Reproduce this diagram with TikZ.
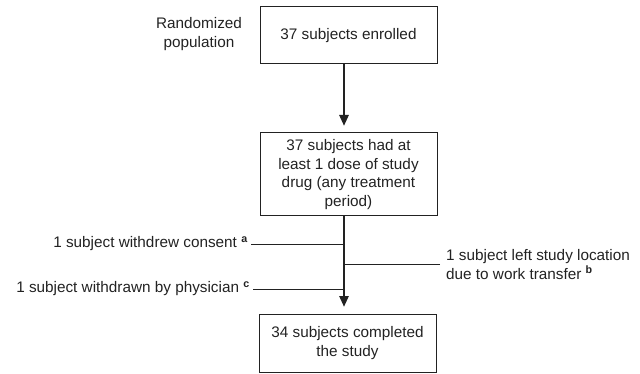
\documentclass[tikz,border=0pt]{standalone}
\usepackage{fontspec}
\setmainfont{Liberation Sans}
\usetikzlibrary{arrows.meta}
\definecolor{ink}{HTML}{222222}
\begin{document}
\begin{tikzpicture}[x=1pt,y=-1pt,
  every node/.style={text=ink,font=\fontsize{15.3}{18.4}\selectfont,inner sep=0pt},
  box/.style={draw=ink,line width=1pt,minimum width=177pt,align=center},
  flow/.style={draw=ink,line width=2.6pt,-{Triangle[length=11pt,width=9pt]},shorten >=6.5pt},
  side/.style={draw=ink,line width=0.9pt},
  note/.style={align=left}]
\useasboundingbox (0,0) rectangle (640,374);
\node[align=center] (rand) at (199,34) {Randomized\\population};
\node[box,minimum height=57pt] (b1) at (348.5,35.5) {37 subjects enrolled};
\node[box,minimum height=83pt] (b2) at (348.5,174.5) {37 subjects had at\\least 1 dose of study\\drug (any treatment\\period)};
\node[box,minimum height=58pt] (b3) at (347.5,343) {34 subjects completed\\the study};
\coordinate (shaft) at (344,0);
\draw[flow] (b1.south -| shaft) -- (b2.north -| shaft);
\draw[flow] (b2.south -| shaft) -- (b3.north -| shaft);
\node[anchor=east] (ta) at (248,244) {1 subject withdrew consent \textsuperscript{\textbf{a}}};
\node[anchor=east] (tc) at (250,289) {1 subject withdrawn by physician \textsuperscript{\textbf{c}}};
\node[anchor=west,note] (tb) at (446,264.5) {1 subject left study location\\due to work transfer \textsuperscript{\textbf{b}}};
\draw[side] ([xshift=3pt]ta.east) -- (ta.east -| shaft);
\draw[side] ([xshift=3pt]tc.east) -- (tc.east -| shaft);
\draw[side] ([xshift=-6pt]tb.west) -- (tb.west -| shaft);
\end{tikzpicture}
\end{document}
